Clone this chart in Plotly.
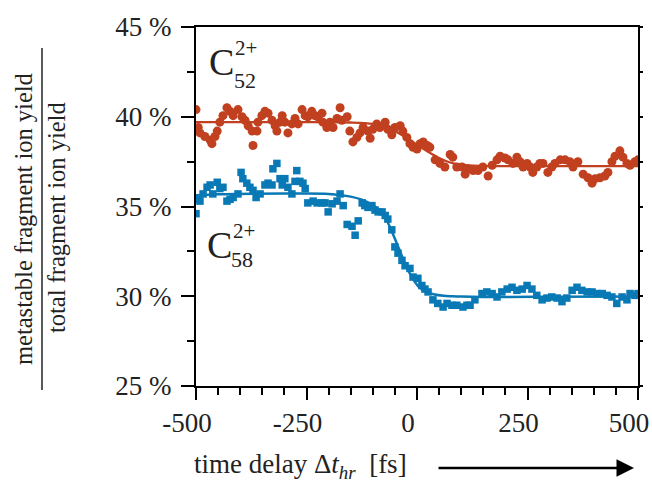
import plotly.graph_objects as go

# ---------------- data ----------------
red_t = [-500, -495, -491, -480, -468, -464, -457, -452, -446, -439, -430, -423, -416, -405,
         -396, -389, -382, -373, -371, -362, -360, -351, -344, -337, -328, -321, -317, -310,
         -305, -299, -292, -283, -276, -269, -260, -253, -247, -238, -231, -224, -215, -213,
         -204, -197, -190, -181, -174, -170, -158, -152, -145, -136, -129, -122, -111, -106,
         -100, -91, -84, -72, -66, -57, -50, -38, -32, -23, -16, -9, 0, 7, 14, 23, 29, 41,
         52, 63, 75, 81, 90, 102, 109, 115, 127, 138, 149, 161, 170, 181, 188, 199, 206,
         217, 226, 233, 240, 249, 256, 262, 271, 278, 285, 296, 305, 312, 324, 335, 346,
         353, 364, 376, 387, 396, 403, 414, 425, 432, 441, 448, 459, 466, 475, 482, 493, 500]
red_v = [40.4, 39.4, 39.1, 38.9, 38.7, 38.5, 38.9, 39.2, 39.7, 40.06, 40.5, 40.3, 40.06, 40.4,
         40.0, 39.8, 39.5, 39.2, 38.4, 39.2, 39.7, 40.06, 40.3, 40.2, 39.8, 39.5, 39.2, 39.7,
         40.06, 39.7, 39.1, 39.6, 39.9, 39.6, 40.4, 40.06, 40.0, 40.3, 40.06, 40.0, 40.2, 39.7,
         39.4, 39.7, 39.4, 39.9, 40.5, 39.8, 40.0, 39.2, 38.6, 38.85, 39.1, 39.4, 39.2, 38.8,
         39.3, 39.6, 39.4, 39.7, 39.3, 39.0, 39.4, 39.5, 39.2, 38.85, 38.5, 38.3, 38.2, 38.5,
         38.6, 38.4, 38.3, 37.6, 37.4, 37.2, 37.9, 37.75, 37.2, 37.2, 36.8, 37.1, 37.0, 37.0,
         37.2, 36.7, 37.3, 37.6, 37.8, 37.7, 37.6, 37.4, 37.75, 37.5, 37.2, 37.4, 37.2, 36.9,
         37.2, 37.4, 37.4, 36.9, 37.2, 37.4, 37.6, 37.6, 37.5, 37.2, 37.5, 36.8, 36.6, 36.3,
         36.55, 36.6, 36.7, 36.9, 37.5, 37.8, 38.1, 37.75, 37.4, 37.3, 37.5, 37.6]

blue_t = [-500, -495, -491, -484, -475, -468, -462, -452, -446, -439, -430, -423, -416, -405,
          -398, -394, -385, -378, -371, -364, -355, -344, -337, -328, -326, -317, -310, -305,
          -299, -292, -283, -276, -272, -265, -258, -253, -247, -235, -226, -215, -208, -201,
          -192, -181, -174, -167, -158, -147, -140, -133, -124, -118, -111, -102, -95, -88,
          -79, -72, -66, -57, -50, -43, -34, -27, -16, -9, 2, 11, 18, 25, 36, 47, 59, 68, 79,
          90, 104, 113, 120, 131, 147, 158, 170, 181, 192, 204, 215, 226, 238, 249, 260, 271,
          283, 294, 305, 317, 328, 339, 351, 362, 373, 385, 396, 407, 419, 430, 441, 452, 464,
          475, 482, 493, 500]
blue_v = [34.6, 35.4, 35.3, 35.7, 36.07, 36.2, 35.7, 36.35, 36.0, 36.07, 35.3, 35.4, 35.5, 35.7,
          36.9, 36.55, 36.3, 36.07, 35.9, 35.5, 35.7, 36.2, 36.3, 36.2, 37.1, 37.4, 36.55, 36.2,
          36.55, 36.07, 35.7, 36.4, 37.0, 36.4, 36.3, 36.0, 35.2, 35.3, 35.2, 35.2, 35.2, 34.7,
          35.15, 35.3, 35.7, 35.05, 34.0, 33.9, 33.4, 34.2, 35.2, 35.05, 34.95, 35.05, 34.8, 34.7,
          34.7, 34.5, 34.3, 33.7, 32.75, 32.4, 32.0, 31.7, 31.55, 31.07, 31.0, 30.6, 30.4, 30.24,
          29.8, 29.6, 29.4, 29.6, 29.5, 29.5, 29.4, 29.5, 29.5, 29.8, 30.15, 30.24, 30.15, 29.96,
          30.24, 30.4, 30.5, 30.33, 30.4, 30.6, 30.4, 30.05, 29.8, 29.9, 29.96, 29.9, 29.7, 29.9,
          30.33, 30.5, 30.33, 30.24, 30.24, 30.15, 30.15, 30.05, 29.96, 29.6, 29.96, 29.8, 30.15,
          30.05, 30.15]

red_fit_t = [-500, -300, -150, -100, -75, -50, -25, 0, 25, 50, 75, 100, 150, 300, 500]
red_fit_v = [39.7, 39.7, 39.68, 39.6, 39.45, 39.2, 38.85, 38.45, 38.05, 37.7, 37.45, 37.32,
             37.26, 37.25, 37.25]

blue_fit_t = [-500, -450, -300, -200, -150, -125, -100, -85, -70, -55, -40, -25, -10, 5, 20,
              40, 60, 80, 100, 150, 300, 500]
blue_fit_v = [35.62, 35.68, 35.72, 35.7, 35.55, 35.38, 35.08, 34.8, 34.3, 33.5, 32.6, 31.7,
              31.0, 30.5, 30.25, 30.1, 30.03, 30.0, 29.98, 29.96, 29.97, 29.98]

x_ticks = [-500, -250, 0, 250, 500]
x_ticklabels = ["-500", "-250", "0", "250", "500"]
y_ticks = [25, 30, 35, 40, 45]
y_ticklabels = ["25 %", "30 %", "35 %", "40 %", "45 %"]
y_right_ticks = [25, 27.5, 30, 32.5, 35, 37.5, 40, 42.5, 45]

RED = "#C1401F"
BLUE = "#0979B5"
FONT = "Liberation Serif"
TXT = "#222"

# ---------------- layout helpers ----------------
W, H = 652, 483
L, R, T, B = 196, 14, 27, 97
PW, PH = W - L - R, H - T - B


def xp(px):
    return (px - L) / PW


def yp(py):
    return (H - B - py) / PH


fig = go.Figure()
fig.add_trace(go.Scatter(x=red_t, y=red_v, mode="markers",
                         marker=dict(symbol="circle", size=9, color=RED, line=dict(width=0)),
                         showlegend=False))
fig.add_trace(go.Scatter(x=blue_t, y=blue_v, mode="markers",
                         marker=dict(symbol="square", size=7.5, color=BLUE, line=dict(width=0)),
                         showlegend=False))
fig.add_trace(go.Scatter(x=red_fit_t, y=red_fit_v, mode="lines",
                         line=dict(color=RED, width=2.3, shape="spline", smoothing=1),
                         showlegend=False))
fig.add_trace(go.Scatter(x=blue_fit_t, y=blue_fit_v, mode="lines",
                         line=dict(color=BLUE, width=2.5, shape="spline", smoothing=1),
                         showlegend=False))
# empty trace so that the right-hand tick axis is drawn
fig.add_trace(go.Scatter(x=[None], y=[None], yaxis="y2", mode="markers",
                         showlegend=False, hoverinfo="skip"))

axis_common = dict(showgrid=False, zeroline=False, showline=True, linecolor="black",
                   linewidth=2, ticks="outside", tickcolor="black", tickwidth=1.5,
                   automargin=False,
                   tickfont=dict(family=FONT, size=27, color=TXT))

fig.update_xaxes(range=[-500, 500], tickvals=x_ticks, ticktext=x_ticklabels, ticklen=12,
                 mirror=True, ticklabelshift=-9, ticklabeloverflow="allow",
                 minor=dict(dtick=50, tick0=0, ticks="outside", ticklen=7, tickcolor="black",
                            tickwidth=1.5),
                 **axis_common)
fig.update_yaxes(range=[25, 45], tickvals=y_ticks, ticktext=y_ticklabels, ticklen=13,
                 mirror=True, ticklabelstandoff=4,
                 minor=dict(dtick=2.5, tick0=25, ticks="outside", ticklen=7, tickcolor="black",
                            tickwidth=1.5),
                 **axis_common)

ann = []


def txt(text, px, py, size, xanchor="left", yanchor="middle", angle=0):
    ann.append(dict(text=text, x=xp(px), y=yp(py), xref="paper", yref="paper",
                    showarrow=False, xanchor=xanchor, yanchor=yanchor, textangle=angle,
                    font=dict(family=FONT, size=size, color=TXT)))


# C52 2+
txt("C", 207, 62, 38)
txt("2+", 233, 48, 21)
txt("52", 232, 80, 22)
# C58 2+
txt("C", 205, 245, 38)
txt("2+", 231, 231, 21)
txt("58", 229, 259, 22)

# y title as fraction
txt("metastable fragment ion yield", 24, 219, 24.5, xanchor="center", angle=-90)
txt("total fragment ion yield", 56, 218, 24.5, xanchor="center", angle=-90)

# x title
txt("time delay Δ<i>t</i><sub><i>hr</i></sub>  [fs]", 192, 466, 27)

# arrow
ann.append(dict(text="", x=xp(634), y=yp(468), xref="paper", yref="paper",
                showarrow=True, ax=-197, ay=0, axref="pixel", ayref="pixel",
                arrowhead=2, arrowsize=1.4, arrowwidth=2.5, arrowcolor="black"))

fig.update_layout(
    width=W, height=H,
    margin=dict(l=L, r=R, t=T, b=B, autoexpand=False),
    paper_bgcolor="white", plot_bgcolor="white",
    annotations=ann,
    yaxis2=dict(overlaying="y", side="right", range=[25, 45], tickvals=y_right_ticks,
                ticks="outside", ticklen=4, tickwidth=1.5, tickcolor="black",
                showticklabels=False, showgrid=False, zeroline=False, showline=False,
                automargin=False),
    shapes=[dict(type="line", xref="paper", yref="paper", x0=xp(42), x1=xp(42),
                 y0=yp(48), y1=yp(390), line=dict(color=TXT, width=1.5))],
)

fig.write_html("out.html")
